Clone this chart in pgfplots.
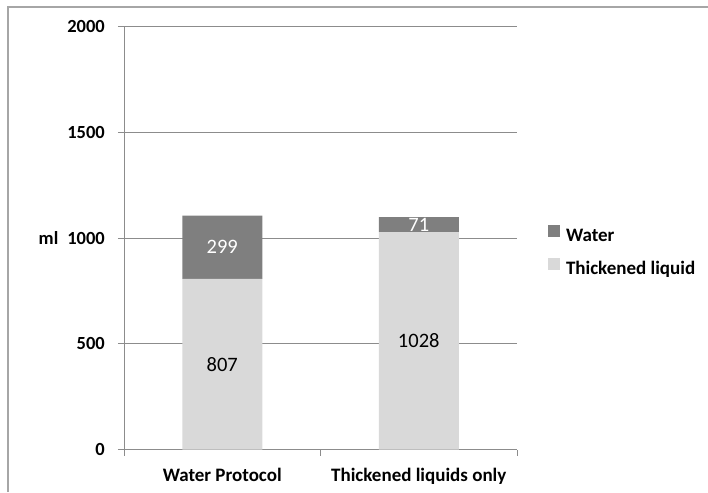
\documentclass[border=0pt]{standalone}
\usepackage{pgfplots}
\pgfplotsset{compat=1.18}
\usepackage{pgfplotstable}
\usepackage{fontspec}
\setmainfont{Carlito}
\definecolor{watercol}{HTML}{7F7F7F}
\definecolor{thickcol}{HTML}{D9D9D9}
\definecolor{gridcol}{HTML}{8C8C8C}
\definecolor{framecol}{HTML}{A6A6A6}
\pgfplotstableread{
x thick water
0 807 299
1 1028 71
}\data
\begin{document}
\begin{tikzpicture}
\useasboundingbox (0pt,0pt) rectangle (708pt,-492pt);
\draw[framecol, line width=1.6pt] (8pt,-492pt) -- (8pt,-7pt) -- (708pt,-7pt);
\begin{axis}[
  at={(124pt,-449.5pt)}, anchor=south west,
  scale only axis, width=393pt, height=423pt,
  ybar stacked, bar width=80pt,
  xmin=-0.5, xmax=1.5, ymin=0, ymax=2000,
  axis x line=bottom, axis y line=left,
  x axis line style={-, gridcol, line width=0.9pt},
  y axis line style={-, gridcol, line width=0.9pt},
  xtick={-0.5,0.5,1.5}, xticklabels={,,},
  extra x ticks={0,1},
  extra x tick labels={Water Protocol, Thickened liquids only},
  extra x tick style={major tick length=0pt, grid=none,
    tick label style={font=\bfseries\fontsize{19}{19}\selectfont, anchor=north, inner sep=0pt, yshift=-18pt}},
  ytick={0,500,1000,1500,2000},
  tick align=outside, major tick length=6pt,
  tick style={gridcol, line width=0.9pt},
  ymajorgrids, grid style={gridcol, line width=0.9pt},
  /pgf/number format/1000 sep={},
  /pgf/number format/assume math mode=true,
  yticklabel style={font=\bfseries\fontsize{18.5}{18.5}\selectfont, inner sep=0pt, xshift=-13pt},
  ylabel={ml},
  ylabel style={rotate=-90, anchor=center, font=\bfseries\fontsize{18.5}{18.5}\selectfont, at={(axis description cs:-0.192,0.5)}},
  legend style={at={(axis description cs:1.0789,0.468)}, anchor=west, draw=none, fill=none,
    inner sep=0pt, outer sep=0pt, row sep=13pt, column sep=6pt,
    nodes={inner sep=0pt, text height=12pt, text depth=4pt, font=\bfseries\fontsize{19}{19}\selectfont}},
  legend cell align=left,
  reverse legend,
  nodes near coords,
  every node near coord/.append style={font=\fontsize{20.5}{20.5}\selectfont, anchor=center},
]
\addplot[fill=thickcol, draw=none,
  point meta=explicit,
  every node near coord/.append style={black},
  legend image code/.code={\fill[thickcol] (0pt,0pt) rectangle (12pt,12pt);}]
  table[x=x, y=thick, meta=thick] {\data};
\addlegendentry{Thickened liquid}
\addplot[fill=watercol, draw=none,
  point meta=explicit,
  every node near coord/.append style={white},
  legend image code/.code={\fill[watercol] (0pt,0pt) rectangle (12pt,12pt);}]
  table[x=x, y=water, meta=water] {\data};
\addlegendentry{Water}
\end{axis}
\end{tikzpicture}
\end{document}
